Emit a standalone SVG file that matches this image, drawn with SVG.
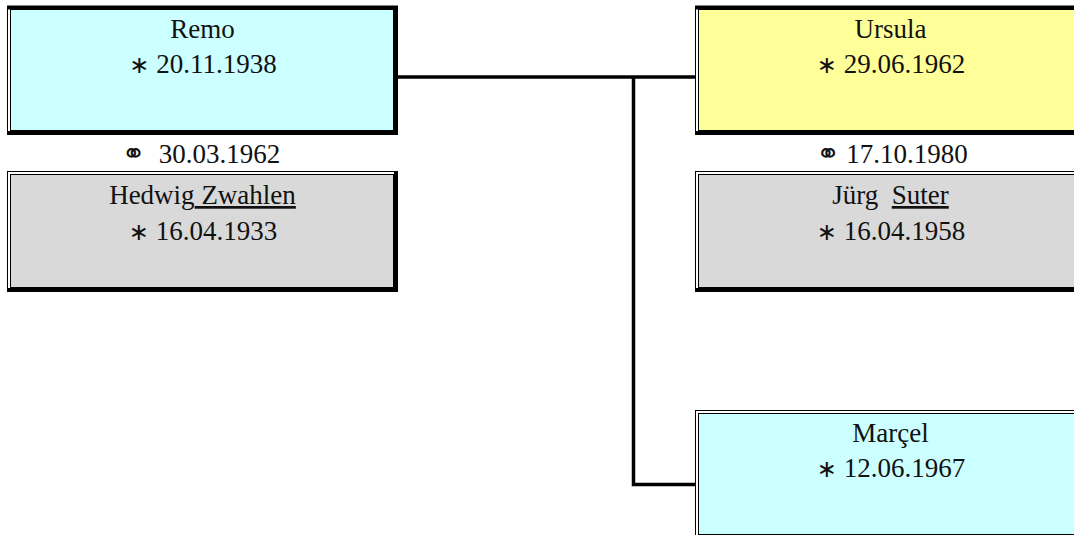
<svg xmlns="http://www.w3.org/2000/svg" width="1074" height="535" viewBox="0 0 1074 535">
<style>
.t{font-family:"Liberation Serif","Times New Roman",serif;font-size:27px;fill:#111;text-anchor:middle;white-space:pre}
.ring{font-family:"DejaVu Sans","Noto Sans",sans-serif;font-size:28px}
.st{font-family:"DejaVu Sans",sans-serif;font-size:24px;font-weight:normal}
.o{fill:none;stroke:#000;stroke-width:1}
.sh{stroke:#000;stroke-width:4;fill:none}
.c{stroke:#000;stroke-width:3.5;fill:none;stroke-linejoin:miter}
.u{text-decoration:underline}
</style>
<rect width="1074" height="535" fill="#fff"/>
<g id="connectors">
<path class="c" d="M398 77 H695"/>
<path class="c" d="M633.5 77 V484.5 H695"/>
</g>
<g id="remo">
<rect class="o" x="7.5" y="6.5" width="390" height="128"/>
<rect x="10.5" y="9.5" width="383" height="121" fill="#ccffff" stroke="#000" stroke-width="1"/>
<path class="sh" d="M396 6 V135 M7 133 H398"/>
<path class="sh" d="M7 7.5 H398" stroke-width="3"/>
<text class="t" x="202.5" y="38">Remo</text>
<text class="t" x="203" y="73"><tspan class="st">∗</tspan> 20.11.1938</text>
</g>
<text class="t" x="201" y="163"><tspan class="ring">⚭</tspan>  30.03.1962</text>
<g id="hedwig">
<rect class="o" x="7.5" y="171.5" width="390" height="120"/>
<rect x="10.5" y="174.5" width="383" height="113" fill="#d9d9d9" stroke="#000" stroke-width="1"/>
<path class="sh" d="M396 171 V292 M7 290 H398"/>
<text class="t" x="202.5" y="204">Hedwig<tspan class="u"> Zwahlen</tspan></text>
<text class="t" x="203" y="240"><tspan class="st">∗</tspan> 16.04.1933</text>
</g>
<g id="ursula">
<rect class="o" x="695.5" y="6.5" width="390" height="128"/>
<rect x="698.5" y="9.5" width="383" height="121" fill="#ffff99" stroke="#000" stroke-width="1"/>
<path class="sh" d="M695 133 H1086"/>
<path class="sh" d="M695 7.5 H1086" stroke-width="3"/>
<text class="t" x="890.5" y="38">Ursula</text>
<text class="t" x="891" y="73"><tspan class="st">∗</tspan> 29.06.1962</text>
</g>
<text class="t" x="892" y="163"><tspan class="ring">⚭</tspan> 17.10.1980</text>
<g id="juerg">
<rect class="o" x="695.5" y="171.5" width="390" height="120"/>
<rect x="698.5" y="174.5" width="383" height="113" fill="#d9d9d9" stroke="#000" stroke-width="1"/>
<path class="sh" d="M695 290 H1086"/>
<text class="t" x="890.5" y="204">Jürg  <tspan class="u">Suter</tspan></text>
<text class="t" x="891" y="240"><tspan class="st">∗</tspan> 16.04.1958</text>
</g>
<g id="marcel">
<rect class="o" x="695.5" y="410.5" width="390" height="128"/>
<rect x="698.5" y="413.5" width="383" height="121" fill="#ccffff" stroke="#000" stroke-width="1"/>
<text class="t" x="890.5" y="442">Marçel</text>
<text class="t" x="891" y="477"><tspan class="st">∗</tspan> 12.06.1967</text>
</g>
</svg>
